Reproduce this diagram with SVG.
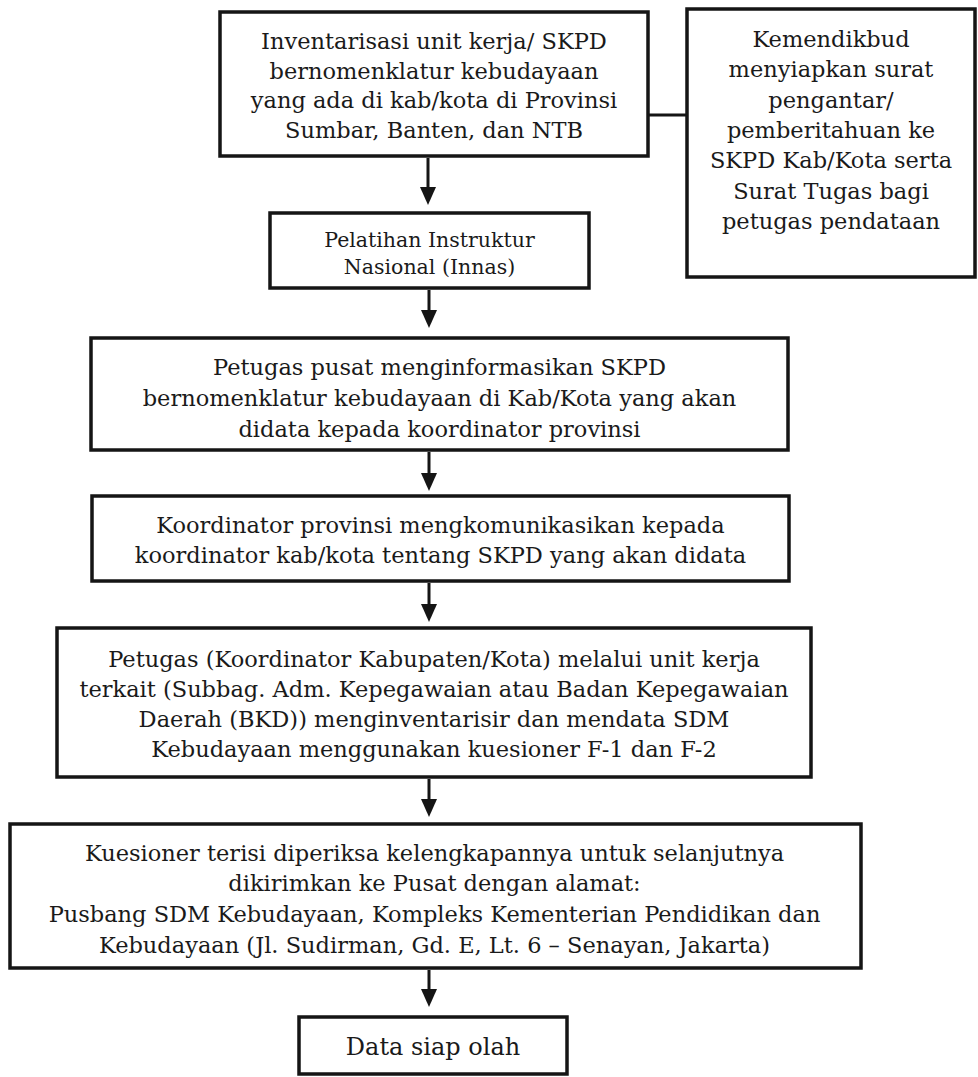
<svg xmlns="http://www.w3.org/2000/svg" width="978" height="1077" viewBox="0 0 978 1077">
<style>
  .box { fill: #ffffff; stroke: #151515; stroke-width: 3.5; }
  .t { font-family: "DejaVu Serif", "Liberation Serif", serif; font-size: 22.5px; fill: #1a1a1a; text-anchor: middle; }
  .s { font-size: 20.5px; }
  .b { font-size: 24px; }
  .conn { stroke: #151515; stroke-width: 3; fill: none; }
</style>
<defs>
  <marker id="ah" viewBox="0 0 18 16" refX="8" refY="8" markerWidth="18" markerHeight="16" markerUnits="userSpaceOnUse" orient="auto">
    <path d="M0,0 L18,8 L0,16 z" fill="#151515"/>
  </marker>
</defs>
<rect x="0" y="0" width="978" height="1077" fill="#ffffff"/>

<g id="connectors">
  <line class="conn" x1="648" y1="115" x2="687" y2="115"/>
  <line class="conn" x1="428" y1="158" x2="428" y2="195" marker-end="url(#ah)"/>
  <line class="conn" x1="429" y1="290" x2="429" y2="318" marker-end="url(#ah)"/>
  <line class="conn" x1="429" y1="452" x2="429" y2="481" marker-end="url(#ah)"/>
  <line class="conn" x1="429" y1="583" x2="429" y2="612" marker-end="url(#ah)"/>
  <line class="conn" x1="429" y1="779" x2="429" y2="807" marker-end="url(#ah)"/>
  <line class="conn" x1="429" y1="970" x2="429" y2="997" marker-end="url(#ah)"/>
</g>

<g id="node-inventarisasi">
  <rect class="box" x="220" y="12" width="428" height="144"/>
  <text class="t" x="434" y="49">Inventarisasi unit kerja/ SKPD</text>
  <text class="t" x="434" y="78.5">bernomenklatur kebudayaan</text>
  <text class="t" x="434" y="108">yang ada di kab/kota di Provinsi</text>
  <text class="t" x="434" y="137.5">Sumbar, Banten, dan NTB</text>
</g>

<g id="node-kemendikbud">
  <rect class="box" x="687" y="9" width="288" height="268"/>
  <text class="t" x="831" y="47">Kemendikbud</text>
  <text class="t" x="831" y="77.3">menyiapkan surat</text>
  <text class="t" x="831" y="107.6">pengantar/</text>
  <text class="t" x="831" y="137.9">pemberitahuan ke</text>
  <text class="t" x="831" y="168.2">SKPD Kab/Kota serta</text>
  <text class="t" x="831" y="198.5">Surat Tugas bagi</text>
  <text class="t" x="831" y="228.8">petugas pendataan</text>
</g>

<g id="node-pelatihan">
  <rect class="box" x="270" y="213" width="319" height="75"/>
  <text class="t s" x="429.5" y="247">Pelatihan Instruktur</text>
  <text class="t s" x="429.5" y="274">Nasional (Innas)</text>
</g>

<g id="node-petugas-pusat">
  <rect class="box" x="91" y="338" width="697" height="112"/>
  <text class="t" x="439.5" y="375">Petugas pusat menginformasikan SKPD</text>
  <text class="t" x="439.5" y="406">bernomenklatur kebudayaan di Kab/Kota yang akan</text>
  <text class="t" x="439.5" y="437">didata kepada koordinator provinsi</text>
</g>

<g id="node-koordinator-provinsi">
  <rect class="box" x="92" y="496" width="697" height="85"/>
  <text class="t" x="440.5" y="533">Koordinator provinsi mengkomunikasikan kepada</text>
  <text class="t" x="440.5" y="563">koordinator kab/kota tentang SKPD yang akan didata</text>
</g>

<g id="node-petugas-kabkota">
  <rect class="box" x="57" y="628" width="754" height="149"/>
  <text class="t" x="434" y="667">Petugas (Koordinator Kabupaten/Kota) melalui unit kerja</text>
  <text class="t" x="434" y="697">terkait (Subbag. Adm. Kepegawaian atau Badan Kepegawaian</text>
  <text class="t" x="434" y="727">Daerah (BKD)) menginventarisir dan mendata SDM</text>
  <text class="t" x="434" y="757">Kebudayaan menggunakan kuesioner F-1 dan F-2</text>
</g>

<g id="node-kuesioner">
  <rect class="box" x="10" y="824" width="851" height="144"/>
  <text class="t" x="434.5" y="861">Kuesioner terisi diperiksa kelengkapannya untuk selanjutnya</text>
  <text class="t" x="434.5" y="891">dikirimkan ke Pusat dengan alamat:</text>
  <text class="t" x="434.5" y="922">Pusbang SDM Kebudayaan, Kompleks Kementerian Pendidikan dan</text>
  <text class="t" x="434.5" y="953">Kebudayaan (Jl. Sudirman, Gd. E, Lt. 6 – Senayan, Jakarta)</text>
</g>

<g id="node-data-siap">
  <rect class="box" x="299" y="1017" width="268" height="57"/>
  <text class="t b" x="433" y="1055">Data siap olah</text>
</g>
</svg>
